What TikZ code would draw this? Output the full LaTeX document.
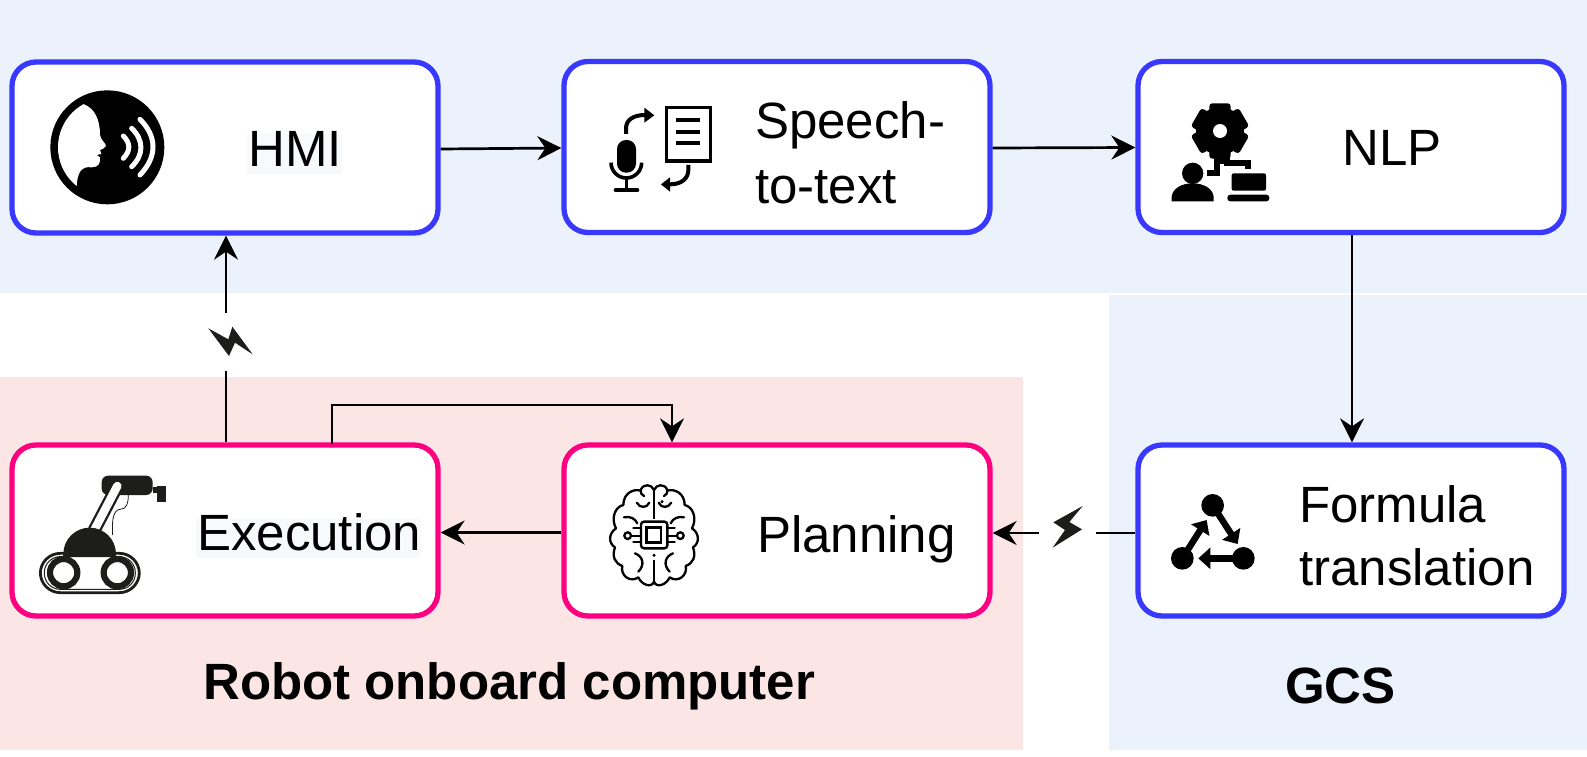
\documentclass[tikz,border=0pt]{standalone}
\usepackage{fontspec}
\setmainfont{Liberation Sans}
\usetikzlibrary{arrows.meta,calc}
\definecolor{bgblue}{HTML}{EBF2FC}
\definecolor{bgpink}{HTML}{FBE5E5}
\definecolor{edgeblue}{HTML}{3838FF}
\definecolor{edgepink}{HTML}{FF0080}
\definecolor{hilite}{HTML}{F7F9FB}
\definecolor{ink}{HTML}{1D1D1B}
\tikzset{
  card/.style={draw=#1,line width=5.3pt,rounded corners=24pt,fill=white,inner sep=0pt},
  wide/.style={minimum width=426pt,minimum height=171pt},
  lab/.style={font=\fontsize{51}{51}\selectfont,anchor=base west,inner sep=0pt,text=black},
  grp/.style={font=\fontsize{51}{51}\selectfont\bfseries,anchor=base west,inner sep=0pt,text=black},
  flow/.style={line width=2.7pt,draw=black,-{Stealth[length=24pt,width=24pt,inset=8pt]}},
  plain/.style={line width=2.7pt,draw=black},
  zoomed/.style={x=0.33333pt,y=-0.33333pt},
}
\begin{document}
\begin{tikzpicture}[x=1pt,y=-1pt]
\useasboundingbox (0,0) rectangle (1587,757);
\fill[white] (0,0) rectangle (1587,757);
% regions
\fill[bgblue] (0,0) rectangle (1587,293);
\fill[bgblue] (1109,295) rectangle (1587,750);
\fill[bgpink] (0,377) rectangle (1023,750);
% cards
\node[card=edgeblue,wide] (hmi) at (225,147.5) {};
\node[card=edgeblue,wide] (speech) at (777,147) {};
\node[card=edgeblue,wide] (nlp) at (1351,147) {};
\node[card=edgepink,wide] (exec) at (225,530.5) {};
\node[card=edgepink,wide] (plan) at (777,530.5) {};
\node[card=edgeblue,wide] (formula) at (1351,530.5) {};
% text highlight
\fill[hilite] (247,134) rectangle (342,174);
\fill[hilite] (196,519) rectangle (421,558);
% labels
\node[lab] (thmi) at (248,166) {HMI};
\node[lab] (tsp1) at (755,139) {Speech-};
\node[lab] (tsp2) at (755,203) {to-text};
\node[lab] (tnlp) at (1342,165) {NLP};
\node[lab] (texe) at (197,550) {Execution};
\node[lab] (tpla) at (757,552) {Planning};
\node[lab] (tfo1) at (1299,522) {Formula};
\node[lab] (tfo2) at (1299,585) {translation};
\node[grp] (trob) at (203,699) {Robot onboard computer};
\node[grp] (tgcs) at (1285,703) {GCS};
% connector helpers
\coordinate (wa) at (226,371);
\coordinate (wb) at (226,313);
\coordinate (wc) at (1096,533);
\coordinate (wd) at (1039,533);
\coordinate (la) at (332,405);
\coordinate (lb) at (672,405);
% connectors
\draw[flow] (hmi.east |- 0,149) -- (speech.west |- 0,148);
\draw[flow] (speech.east |- 0,148) -- (nlp.west |- 0,147.5);
\draw[flow] (nlp.south -| 1352,0) -- (formula.north -| 1352,0);
\draw[plain] (formula.west |- wc) -- (wc);
\draw[flow] (wd) -- (plan.east |- wd);
\draw[flow] (plan.west |- 0,532.5) -- (exec.east |- 0,532.5);
\draw[plain] (exec.north -| wa) -- (wa);
\draw[flow] (wb) -- (hmi.south -| wb);
\draw[plain,line cap=rect] (exec.north -| la) -- (la) -- (lb);
\draw[flow] (lb) -- (plan.north -| lb);
% lightning
\begin{scope}[shift={(0,300)},zoomed]
\fill[ink] (625,85)--(685,118)--(697,80)--(758,163)--(705,128)--(687,168)--cycle;
\end{scope}
\begin{scope}[shift={(970,460)},zoomed]
\fill[ink] (338,138)--(250,187)--(285,210)--(248,263)--(336,208)--(298,186)--cycle;
\end{scope}
% HMI icon
\begin{scope}[shift={(0,40)},zoomed]
\fill[black] (322,322) circle[radius=171];
\begin{scope}
\clip (322,322) circle[radius=148];
\fill[white] (100,100) -- (250,192) .. controls (285,205) and (300,240) .. (300,285)
 .. controls (302,300) and (318,310) .. (318,318) .. controls (316,325) and (305,328) .. (300,330)
 -- (304,342) -- (290,345) -- (300,352) .. controls (302,370) and (295,382) .. (275,382)
 .. controls (245,378) and (232,395) .. (230,440) -- (100,500) -- cycle;
\end{scope}
\draw[white,line width=5pt,line cap=round] (370,288) .. controls (392,310) and (392,332) .. (370,355);
\draw[white,line width=5pt,line cap=round] (395,265) .. controls (432,300) and (432,345) .. (395,380);
\draw[white,line width=5pt,line cap=round] (420,238) .. controls (472,290) and (472,350) .. (420,405);
\end{scope}
% Speech icon
\begin{scope}[shift={(550,40)},zoomed]
\fill[black,rounded corners=9pt] (201,300) rectangle (258,398);
\draw[line width=3.6pt] (183,368) arc[start angle=180,end angle=360,x radius=46,y radius=-46];
\draw[line width=3.6pt] (229,415) -- (229,450);
\draw[line width=4pt,line cap=round] (197,450) -- (262,450);
\draw[line width=3.4pt] (350,203) rectangle (482,363);
\foreach \yy in {240,275,310} \draw[line width=3.8pt] (378,\yy) -- (450,\yy);
\draw[line width=4pt] (228,282) -- (228,265) .. controls (228,240) and (250,225) .. (285,225);
\fill[black] (283,203) -- (313,226) -- (283,248) -- cycle;
\draw[line width=4pt] (415,375) -- (415,390) .. controls (415,415) and (395,433) .. (360,433);
\fill[black] (360,412) -- (333,433) -- (360,455) -- cycle;
\end{scope}
% NLP icon
\begin{scope}[shift={(1120,60)},zoomed]
\fill[black] (300,213) circle[radius=72];
\foreach \aa in {90,30,-30,-90,150,210}
  \fill[black,rotate around={\aa-90:(300,213)},rounded corners=3pt] (268,130) rectangle (332,180);
\fill[white] (300,213) circle[radius=21];
\draw[line width=6pt,line join=miter] (262,340) -- (290,340) -- (290,302) -- (322,302) -- (322,310) -- (385,310) -- (385,328);
\draw[line width=6pt] (300,270) -- (300,305);
\fill[black] (218,340) circle[radius=32];
\fill[black] (155,424) -- (155,410) .. controls (158,385) and (185,370) .. (218,370) .. controls (250,370) and (278,385) .. (281,410) -- (281,424) -- cycle;
\fill[black,rounded corners=2pt] (335,340) rectangle (438,392);
\fill[black,rounded corners=3pt] (322,404) rectangle (448,424);
\end{scope}
% Execution icon
\begin{scope}[shift={(0,300)},zoomed]
\fill[ink,rounded corners=6.5pt] (305,527) rectangle (458,585);
\fill[ink] (458,562) rectangle (470,578);
\fill[ink] (470,558) rectangle (498,605);
\draw[ink,line width=13pt,line cap=round] (352,558) -- (283,690);
\draw[white,line width=8.4pt,line cap=round] (352,558) -- (283,690);
\draw[ink,line width=0.8pt] (385,585) .. controls (385,610) and (380,628) .. (360,628) .. controls (340,630) and (335,660) .. (338,705);
\fill[ink] (190,762) arc[start angle=180,end angle=0,x radius=79,y radius=-79] -- cycle;
\draw[ink,line width=2.8pt,rounded corners=20pt] (121,760) rectangle (418,878);
\draw[ink,line width=1pt,rounded corners=16pt] (133,770) rectangle (406,868);
\fill[ink] (190,757) rectangle (348,770);
\foreach \xx in {191,352} {
  \fill[white] (\xx,818) circle[radius=36];
  \draw[ink,line width=6.2pt] (\xx,818) circle[radius=41];
}
\end{scope}
% Brain icon
\begin{scope}[shift={(580,460)},zoomed]
\foreach \sgn/\cx in {1/0,-1/444} {
\begin{scope}[xshift=\cx*0.33333pt,xscale=\sgn]
\draw[line width=2.3pt,line join=round,line cap=round]
 (222,90) .. controls (215,72) and (190,70) .. (182,90) .. controls (180,98) and (185,105) .. (192,108)
 (182,92) .. controls (160,85) and (130,100) .. (130,135) .. controls (105,140) and (92,175) .. (108,205)
 .. controls (85,220) and (85,250) .. (105,262) .. controls (95,290) and (105,310) .. (127,318)
 .. controls (120,345) and (150,370) .. (175,352) .. controls (185,375) and (215,385) .. (222,365);
\draw[line width=2.3pt,line cap=round] (170,128) .. controls (180,145) and (200,145) .. (208,128);
\draw[line width=2.3pt,line cap=round] (132,172) .. controls (150,168) and (165,175) .. (172,190);
\draw[line width=2.3pt,line cap=round] (165,280) .. controls (190,290) and (195,315) .. (175,335);
\draw[line width=2.3pt,line cap=round] (183,205) -- (160,205);
\draw[line width=2.3pt,line cap=round] (183,247) -- (160,247);
\draw[line width=2.3pt] (183,227) -- (155,227);
\draw[line width=2.3pt] (143,227) circle[radius=10];
\end{scope}}
\draw[line width=2.3pt] (222,90) -- (222,178);
\draw[line width=2.3pt] (222,300) -- (222,368);
\fill[black] (222,286) circle[radius=5];
\fill[black] (246,125) circle[radius=5];
\draw[line width=2.4pt,rounded corners=3pt] (183,185) rectangle (262,265);
\draw[line width=2.6pt] (200,203) rectangle (243,247);
\end{scope}
% Formula icon
\begin{scope}[shift={(970,460)},zoomed]
\fill[black] (728,136) circle[radius=34];
\fill[black] (637,295) circle[radius=34];
\fill[black] (820,295) circle[radius=34];
\draw[line width=6.5pt,-{Triangle[length=12pt,width=21pt]}] (728,136) -- (803,252);
\draw[line width=6.5pt,-{Triangle[length=12pt,width=21pt]}] (637,295) -- (710,180);
\draw[line width=6.5pt,-{Triangle[length=12pt,width=21pt]}] (820,295) -- (685,295);
\end{scope}
\end{tikzpicture}
\end{document}
